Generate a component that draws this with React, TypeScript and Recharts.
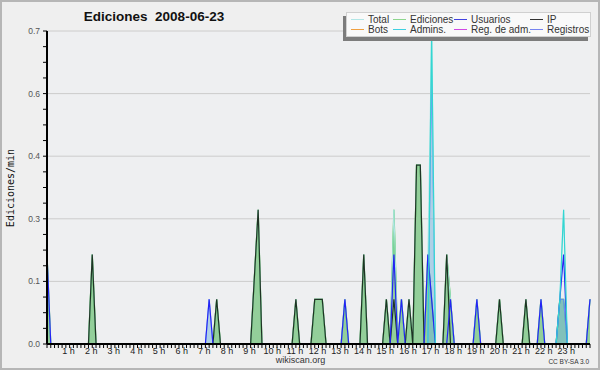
import React from 'react';
import { ComposedChart, Area, Line, XAxis, YAxis, CartesianGrid } from 'recharts';

// 10-minute bins from 0 h (bin 0) to 24 h (bin 144)
const binCount = 145;
const hourLabels = [
  '1 h', '2 h', '3 h', '4 h', '5 h', '6 h', '7 h', '8 h', '9 h', '10 h', '11 h', '12 h',
  '13 h', '14 h', '15 h', '16 h', '17 h', '18 h', '19 h', '20 h', '21 h', '22 h', '23 h',
];
const yTicks = [
  0, 0.035, 0.07, 0.105, 0.14, 0.175, 0.21, 0.245, 0.28, 0.315, 0.35,
  0.385, 0.42, 0.455, 0.49, 0.525, 0.56, 0.595, 0.63, 0.665, 0.7,
];
const yGrid = [0.14, 0.28, 0.42, 0.56, 0.7];

// readings as [bin, edits/min]; bins not listed are 0
const total: [number, number][] = [
  [0, 0.2], [12, 0.2], [43, 0.1], [45, 0.1], [55, 0.15], [56, 0.3], [66, 0.1], [71, 0.1], [72, 0.1], [73, 0.1],
  [79, 0.1], [84, 0.2], [90, 0.1], [92, 0.3], [94, 0.1], [96, 0.1], [98, 0.4], [99, 0.4],
  [101, 0.2], [102, 0.7], [106, 0.2], [107, 0.1], [114, 0.1], [120, 0.1], [127, 0.1],
  [131, 0.1], [136, 0.1], [137, 0.3], [144, 0.1],
];
const ediciones: [number, number][] = [
  [0, 0.2], [12, 0.2], [45, 0.1], [55, 0.15], [56, 0.3], [66, 0.1], [71, 0.1], [72, 0.1], [73, 0.1],
  [79, 0.1], [84, 0.2], [90, 0.1], [92, 0.3], [94, 0.1], [96, 0.1], [98, 0.4], [99, 0.4],
  [101, 0.2], [102, 0.1], [106, 0.2], [107, 0.1], [114, 0.1], [120, 0.1], [127, 0.1],
  [131, 0.1], [136, 0.1], [137, 0.1], [144, 0.1],
];
const usuarios: [number, number][] = [
  [0, 0.2], [43, 0.1], [79, 0.1], [92, 0.2], [94, 0.1], [101, 0.2], [102, 0.1], [107, 0.1],
  [114, 0.1], [131, 0.1], [136, 0.1], [137, 0.2], [144, 0.1],
];
const ip: [number, number][] = [
  [12, 0.2], [45, 0.1], [55, 0.15], [56, 0.3], [66, 0.1], [71, 0.1], [72, 0.1], [73, 0.1], [84, 0.2],
  [90, 0.1], [92, 0.1], [96, 0.1], [98, 0.4], [99, 0.4], [106, 0.2], [120, 0.1], [127, 0.1],
];
const admins: [number, number][] = [[102, 0.7], [136, 0.1], [137, 0.3]];
const registros: [number, number][] = [[43, 0.1], [102, 0.6], [136, 0.1], [137, 0.1]];

const legendItems = [
  { name: 'Total', color: '#b2e6e6' },
  { name: 'Ediciones', color: '#8ed68e' },
  { name: 'Usuarios', color: '#4242e0' },
  { name: 'IP', color: '#333333' },
  { name: 'Bots', color: '#f0a040' },
  { name: 'Admins.', color: '#40d0e0' },
  { name: 'Reg. de adm.', color: '#d048e4' },
  { name: 'Registros', color: '#7684f0' },
];

const valueAt = (list: [number, number][], bin: number) => {
  const hit = list.find((p) => p[0] === bin);
  return hit ? hit[1] : 0;
};

const data = Array.from({ length: binCount }, (_, bin) => ({
  bin,
  total: valueAt(total, bin),
  ediciones: valueAt(ediciones, bin),
  usuarios: valueAt(usuarios, bin),
  ip: valueAt(ip, bin),
  admins: valueAt(admins, bin),
  registros: valueAt(registros, bin),
}));
const xTicks = data.map((d) => d.bin);

const font = '"Liberation Sans", Arial, sans-serif';

const HourTick = (props: any) => {
  const { x, y, payload } = props;
  const h = payload.value / 6;
  if (payload.value % 6 !== 0 || h < 1 || h > 23) return null;
  return (
    <text x={x - 1} y={y + 3.5} textAnchor="middle" fontSize={9} fontFamily={font} fill="#222">
      {hourLabels[h - 1]}
    </text>
  );
};

const ValueTick = (props: any) => {
  const { x, y, payload, index } = props;
  if (index % 4 !== 0) return null;
  return (
    <text x={x - 1} y={y} dy="0.35em" textAnchor="end" fontSize={8.5} fontFamily={font} fill="#555">
      {payload.value.toFixed(1)}
    </text>
  );
};

const ChartLegend = () => {
  const cols = [4, 46, 107, 183];
  return (
    <div
      style={{
        position: 'absolute', left: 346, top: 12, width: 245, height: 25,
        background: '#f9f9f9', border: '1px solid #d0d0d0', boxSizing: 'border-box',
        boxShadow: '-3px 4px 0 #7c7c7c', fontFamily: font, fontSize: 10, color: '#333',
      }}
    >
      {legendItems.map((item, i) => {
        const col = i % 4;
        const row = Math.floor(i / 4);
        return (
          <div
            key={item.name}
            style={{
              position: 'absolute', left: cols[col], top: row * 10 + 0.5,
              height: 11, display: 'flex', alignItems: 'center', whiteSpace: 'nowrap',
            }}
          >
            <span style={{ display: 'inline-block', width: 13, height: 1, background: item.color, marginRight: 4 }} />
            <span style={{ lineHeight: '11px' }}>{item.name}</span>
          </div>
        );
      })}
    </div>
  );
};

export default function App() {
  return (
    <div
      style={{
        position: 'absolute', left: 0, top: 0, width: 600, height: 370,
        background: '#efefef', boxShadow: 'inset 0 0 0 2px #b6b6b6', overflow: 'hidden',
      }}
    >
      <ComposedChart width={600} height={370} data={data} margin={{ top: 31, right: 10, bottom: 0, left: 0 }}>
        <CartesianGrid vertical={false} horizontalValues={yGrid} stroke="#cccccc" fill="#eeeff1" />
        <XAxis
          dataKey="bin"
          type="number"
          domain={[0, 144]}
          ticks={xTicks}
          interval={0}
          height={26}
          tickSize={4}
          tickMargin={2}
          axisLine={{ stroke: '#000', strokeWidth: 2 }}
          tickLine={{ stroke: '#000' }}
          tick={<HourTick />}
        />
        <YAxis
          type="number"
          domain={[0, 0.7]}
          allowDataOverflow
          ticks={yTicks}
          interval={0}
          width={47}
          tickSize={4}
          tickMargin={2}
          axisLine={{ stroke: '#000', strokeWidth: 2 }}
          tickLine={{ stroke: '#000' }}
          tick={<ValueTick />}
        />
        <Line dataKey="total" type="linear" stroke="#b2e6e6" strokeWidth={1} dot={false} isAnimationActive={false} />
        <Area dataKey="ediciones" type="linear" stroke="#2fbf3a" strokeWidth={1.3} fill="#93cf9a" fillOpacity={1} dot={false} isAnimationActive={false} />
        <Area dataKey="registros" type="linear" stroke="#6f8cff" strokeWidth={1} fill="#6fb4dc" fillOpacity={0.5} dot={false} isAnimationActive={false} />
        <Line dataKey="ip" type="linear" stroke="#1f3324" strokeWidth={1.2} dot={false} isAnimationActive={false} />
        <Line dataKey="usuarios" type="linear" stroke="#2323f5" strokeWidth={1.2} dot={false} isAnimationActive={false} />
        <Line dataKey="admins" type="linear" stroke="#33d6d2" strokeWidth={1.2} dot={false} isAnimationActive={false} />
      </ComposedChart>
      <div style={{ position: 'absolute', left: 0, width: 308, top: 9, textAlign: 'center', fontFamily: font, fontWeight: 'bold', fontSize: 13.5, color: '#111', whiteSpace: 'pre' }}>
        {'Ediciones  2008-06-23'}
      </div>
      <div
        style={{
          position: 'absolute', left: 10, top: 188, transform: 'translate(-50%, -50%) rotate(-90deg)',
          fontFamily: '"DejaVu Sans Mono", monospace', fontSize: 10, color: '#111', whiteSpace: 'nowrap',
        }}
      >
        Ediciones/min
      </div>
      <div style={{ position: 'absolute', left: 250, width: 101, top: 355, textAlign: 'center', fontFamily: font, fontSize: 9, color: '#333' }}>
        wikiscan.org
      </div>
      <div style={{ position: 'absolute', right: 11, top: 358, fontFamily: font, fontSize: 6.5, color: '#333' }}>
        CC BY-SA 3.0
      </div>
      <ChartLegend />
    </div>
  );
}
